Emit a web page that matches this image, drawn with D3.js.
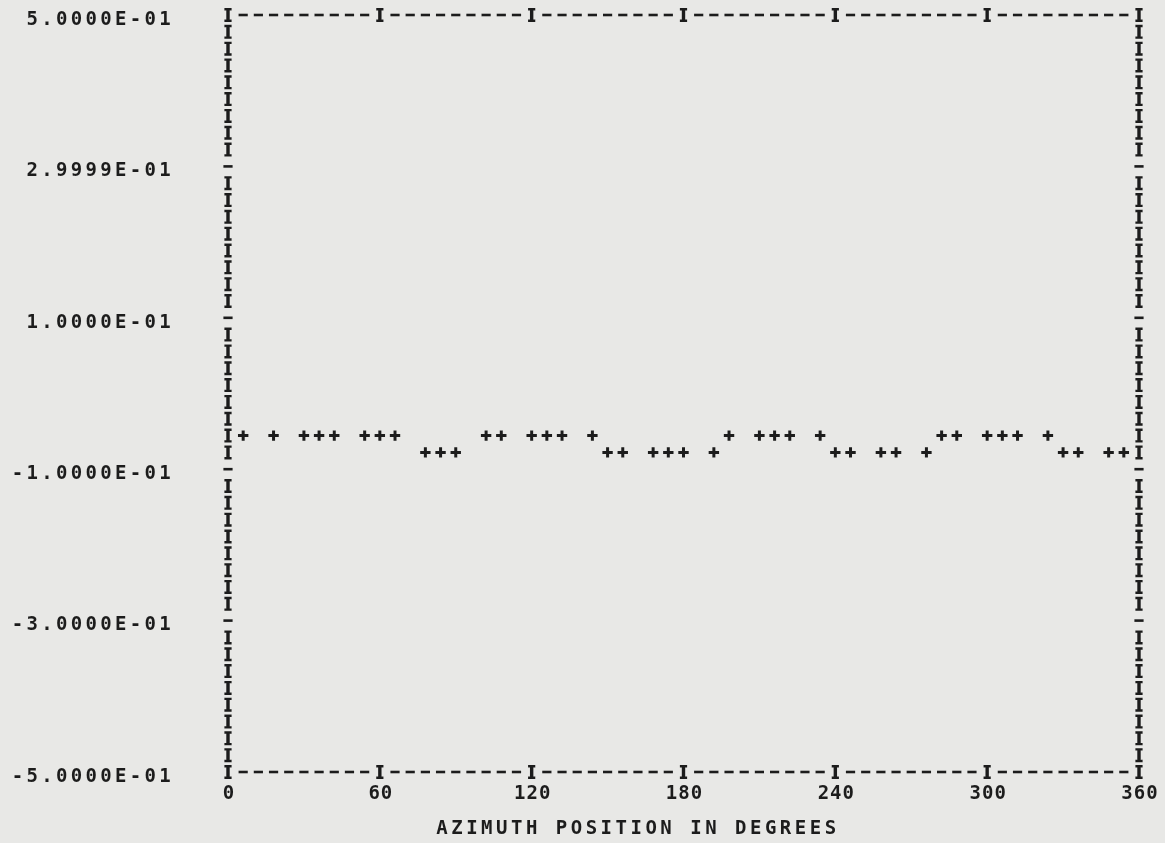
<!DOCTYPE html>
<html>
<head>
<meta charset="utf-8">
<script src="https://cdn.jsdelivr.net/npm/d3@7"></script>
<style>
    body { margin: 0; background: #e8e8e6; }
    svg text {
        font-family: "DejaVu Sans Mono", monospace;
        font-weight: bold;
        fill: #1e1e1e;
    }
</style>
</head>
<body>
<div id="chart"></div>
<script>
// azimuth position (degrees) of every printed point
const azimuth = [6, 18, 30, 36, 42, 54, 60, 66, 78, 84, 90, 102, 108, 120, 126, 132,
    144, 150, 156, 168, 174, 180, 192, 198, 210, 216, 222, 234, 240, 246, 258, 264,
    276, 282, 288, 300, 306, 312, 324, 330, 336, 348, 354];

// value at each azimuth (two printer rows: about -0.056 and -0.078)
const values = [-0.0556, -0.0556, -0.0556, -0.0556, -0.0556, -0.0556, -0.0556, -0.0556,
    -0.0778, -0.0778, -0.0778,
    -0.0556, -0.0556, -0.0556, -0.0556, -0.0556, -0.0556,
    -0.0778, -0.0778, -0.0778, -0.0778, -0.0778, -0.0778,
    -0.0556, -0.0556, -0.0556, -0.0556, -0.0556,
    -0.0778, -0.0778, -0.0778, -0.0778, -0.0778,
    -0.0556, -0.0556, -0.0556, -0.0556, -0.0556, -0.0556,
    -0.0778, -0.0778, -0.0778, -0.0778];

const yTicks = [0.5, 0.3, 0.1, -0.1, -0.3, -0.5];
const yTickLabels = ["5.0000E-01", "2.9999E-01", "1.0000E-01", "-1.0000E-01", "-3.0000E-01", "-5.0000E-01"];
const xTicks = [0, 60, 120, 180, 240, 300, 360];
const xTitle = "AZIMUTH POSITION IN DEGREES";

const ink = "#1e1e1e";

class PrinterPlot {
    constructor(_config, _data) {
        this.config = {
            parentElement: _config.parentElement,
            containerWidth: _config.containerWidth,
            containerHeight: _config.containerHeight,
            margin: _config.margin || {
                top: 15,
                right: 26,
                bottom: 71,
                left: 228
            }
        }
        this.data = _data;
        this.initVis();
    }

    initVis() {
        let vis = this;

        vis.width = vis.config.containerWidth - vis.config.margin.left - vis.config.margin.right;
        vis.height = vis.config.containerHeight - vis.config.margin.top - vis.config.margin.bottom;

        // printer grid: 6 degrees per column, 9 rows per 0.2
        vis.colStep = 6;
        vis.rowStep = 0.2 / 9;

        vis.xScale = d3.scaleLinear()
            .domain([0, 360])
            .range([0, vis.width]);
        vis.yScale = d3.scaleLinear()
            .domain([-0.5, 0.5])
            .range([vis.height, 0]);

        vis.svg = d3.select(vis.config.parentElement).append("svg")
            .attr("width", vis.config.containerWidth)
            .attr("height", vis.config.containerHeight);

        // soften the ink a little, like the printout
        vis.svg.append("defs").append("filter")
            .attr("id", "soft")
            .append("feGaussianBlur")
            .attr("stdDeviation", 0.45);

        vis.chart = vis.svg.append("g")
            .attr("transform", `translate(${vis.config.margin.left},${vis.config.margin.top})`)
            .attr("filter", "url(#soft)");

        vis.frame = vis.chart.append("g").attr("class", "frame");
        vis.marks = vis.chart.append("g").attr("class", "marks");

        // the printer characters used for the frame
        let pI = d3.path();
        pI.rect(-1.7, -7, 3.4, 14);
        pI.rect(-3.6, -7, 7.2, 2.4);
        pI.rect(-3.6, 4.6, 7.2, 2.4);
        vis.glyphI = pI.toString();

        let pDash = d3.path();
        pDash.rect(-4.6, -1.3, 9.2, 2.6);
        vis.glyphDash = pDash.toString();

        let pPlus = d3.path();
        pPlus.rect(-5.2, -1.5, 10.4, 3);
        pPlus.rect(-1.5, -5.2, 3, 10.4);
        vis.glyphPlus = pPlus.toString();

        // x axis title, printed a bit left of centre
        vis.chart.append("text")
            .attr("x", vis.xScale(162))
            .attr("y", vis.height + 55)
            .attr("dy", "0.36em")
            .attr("text-anchor", "middle")
            .style("font-size", "19px")
            .style("letter-spacing", "3.5px")
            .text(xTitle);

        vis.updateVis();
    }

    updateVis() {
        let vis = this;

        let nCols = Math.round(360 / vis.colStep);
        let nRows = Math.round(1 / vis.rowStep);

        // top and bottom edges: I at every 10th column, dashes between
        vis.hEdge = [];
        d3.range(nCols + 1).forEach(c => {
            [0.5, -0.5].forEach(v => {
                vis.hEdge.push({ az: c * vis.colStep, v: v, ch: c % 10 === 0 ? "I" : "-" });
            });
        });

        // left and right edges: dash at every 9th row, I between
        vis.vEdge = [];
        d3.range(1, nRows).forEach(r => {
            [0, 360].forEach(az => {
                vis.vEdge.push({ az: az, v: 0.5 - r * vis.rowStep, ch: r % 9 === 0 ? "-" : "I" });
            });
        });

        vis.renderVis();
    }

    renderVis() {
        let vis = this;

        vis.frame.selectAll(".edge")
            .data(vis.hEdge.concat(vis.vEdge))
            .join("path")
            .attr("class", "edge")
            .attr("transform", d => `translate(${vis.xScale(d.az)},${vis.yScale(d.v)})`)
            .attr("d", d => d.ch === "I" ? vis.glyphI : vis.glyphDash)
            .style("fill", ink);

        // data points
        vis.marks.selectAll(".point")
            .data(vis.data)
            .join("path")
            .attr("class", "point")
            .attr("transform", d => `translate(${vis.xScale(d.az)},${vis.yScale(d.v)})`)
            .attr("d", vis.glyphPlus)
            .style("fill", ink);

        // y tick labels
        vis.chart.selectAll(".ylabel")
            .data(yTicks)
            .join("text")
            .attr("class", "ylabel")
            .attr("x", -54)
            .attr("y", d => vis.yScale(d) + 3)
            .attr("dy", "0.36em")
            .attr("text-anchor", "end")
            .style("font-size", "19px")
            .style("letter-spacing", "3.3px")
            .text((d, i) => yTickLabels[i]);

        // x tick labels
        vis.chart.selectAll(".xlabel")
            .data(xTicks)
            .join("text")
            .attr("class", "xlabel")
            .attr("x", d => vis.xScale(d) + 1)
            .attr("y", vis.height + 20)
            .attr("dy", "0.36em")
            .attr("text-anchor", "middle")
            .style("font-size", "19px")
            .style("letter-spacing", "1px")
            .text(d => d);
    }
}

let plotData = azimuth.map((az, i) => ({ az: az, v: values[i] }));

let plot = new PrinterPlot({
    parentElement: "#chart",
    containerWidth: 1165,
    containerHeight: 843
}, plotData);
</script>
</body>
</html>
